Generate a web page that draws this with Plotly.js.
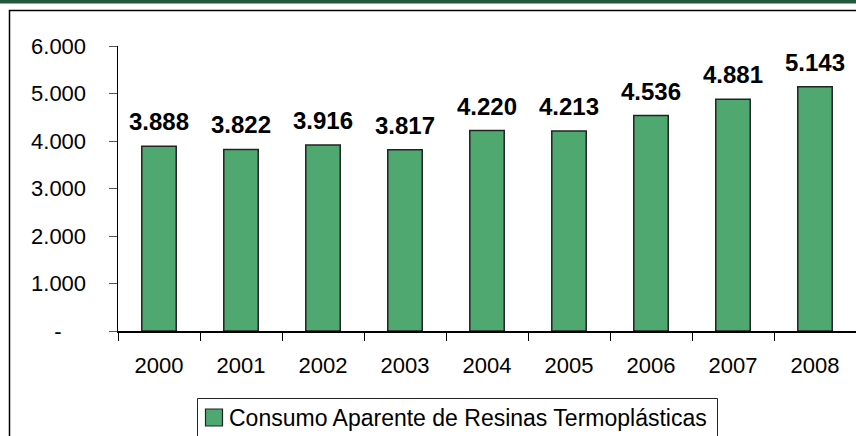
<!DOCTYPE html>
<html>
<head>
<meta charset="utf-8">
<script src="https://cdn.plot.ly/plotly-3.0.1.min.js"></script>
<style>html,body{margin:0;padding:0;background:#fff;}#chart{width:856px;height:436px;}</style>
</head>
<body>
<div id="chart"></div>
<script>
const years = ['2000','2001','2002','2003','2004','2005','2006','2007','2008'];
const consumo = [3888, 3822, 3916, 3817, 4220, 4213, 4536, 4881, 5143];
const valueLabels = ['3.888','3.822','3.916','3.817','4.220','4.213','4.536','4.881','5.143'];
const yTickVals = [0, 1000, 2000, 3000, 4000, 5000, 6000];
const yTickText = ['-\u00a0\u00a0\u00a0\u00a0', '1.000', '2.000', '3.000', '4.000', '5.000', '6.000'];
const seriesName = 'Consumo Aparente de Resinas Termoplásticas';

const FONT = 'Liberation Sans, Arial, sans-serif';
const BAR_COLOR = '#4fa870';
const L = 118, T = 46, B = 105, W = 856, H = 436;
const pw = W - L, ph = H - T - B;
const px = x => (x - L) / pw;
const py = y => (H - B - y) / ph;

const trace = {
  type: 'bar', x: years, y: consumo, name: seriesName,
  width: 0.42,
  marker: {color: BAR_COLOR, line: {color: '#222222', width: 1.5}},
  hoverinfo: 'skip', showlegend: false
};

const annotations = years.map((yr, i) => ({
  x: i, y: consumo[i], xref: 'x', yref: 'y', text: '<b>' + valueLabels[i] + '</b>',
  showarrow: false, yanchor: 'bottom', yshift: 9,
  font: {family: FONT, size: 24, color: '#000'}
}));
// legend text (manual legend box)
annotations.push({
  xref: 'paper', yref: 'paper', x: px(227), y: py(417.5), xanchor: 'left', yanchor: 'middle',
  text: seriesName, showarrow: false, font: {family: FONT, size: 23, color: '#000'}
});

const layout = {
  width: W, height: H,
  margin: {l: L, r: 0, t: T, b: B, pad: 0},
  paper_bgcolor: '#fff', plot_bgcolor: '#fff',
  font: {family: FONT, size: 22, color: '#000'},
  showlegend: false,
  xaxis: {
    type: 'category', range: [-0.5, 8.5],
    showline: true, linecolor: '#000', linewidth: 1.5,
    ticks: 'outside', tickson: 'boundaries', ticklen: 8, tickcolor: '#000', tickwidth: 1,
    showgrid: false, zeroline: false, ticklabelstandoff: 14,
    tickfont: {family: FONT, size: 22, color: '#000'}
  },
  yaxis: {
    range: [0, 6000], tickvals: yTickVals, ticktext: yTickText,
    showline: true, linecolor: '#000', linewidth: 1.5,
    ticks: 'outside', ticklen: 8, tickcolor: '#555', tickwidth: 1,
    showgrid: false, zeroline: false, ticklabelstandoff: 18,
    tickfont: {family: FONT, size: 22, color: '#000'}
  },
  annotations: annotations,
  shapes: [
    {type: 'rect', xref: 'paper', yref: 'paper', x0: px(-5), x1: px(870), y0: py(0), y1: py(3.5),
     fillcolor: '#1f5a3a', line: {width: 0}, layer: 'above'},
    {type: 'rect', xref: 'paper', yref: 'paper', x0: px(9.5), x1: px(870), y0: py(10.5), y1: py(460),
     fillcolor: 'rgba(0,0,0,0)', line: {color: '#000', width: 1.5}, layer: 'above'},
    // legend box
    {type: 'rect', xref: 'paper', yref: 'paper', x0: px(197.5), x1: px(717.5), y0: py(398.5), y1: py(460),
     fillcolor: '#fff', line: {color: '#222', width: 1}, layer: 'above'},
    // legend symbol
    {type: 'rect', xref: 'paper', yref: 'paper', x0: px(205.5), x1: px(222.5), y0: py(409), y1: py(426),
     fillcolor: BAR_COLOR, line: {color: '#222', width: 1.2}, layer: 'above'}
  ]
};

Plotly.newPlot('chart', [trace], layout, {staticPlot: true, displayModeBar: false});
</script>
</body>
</html>
